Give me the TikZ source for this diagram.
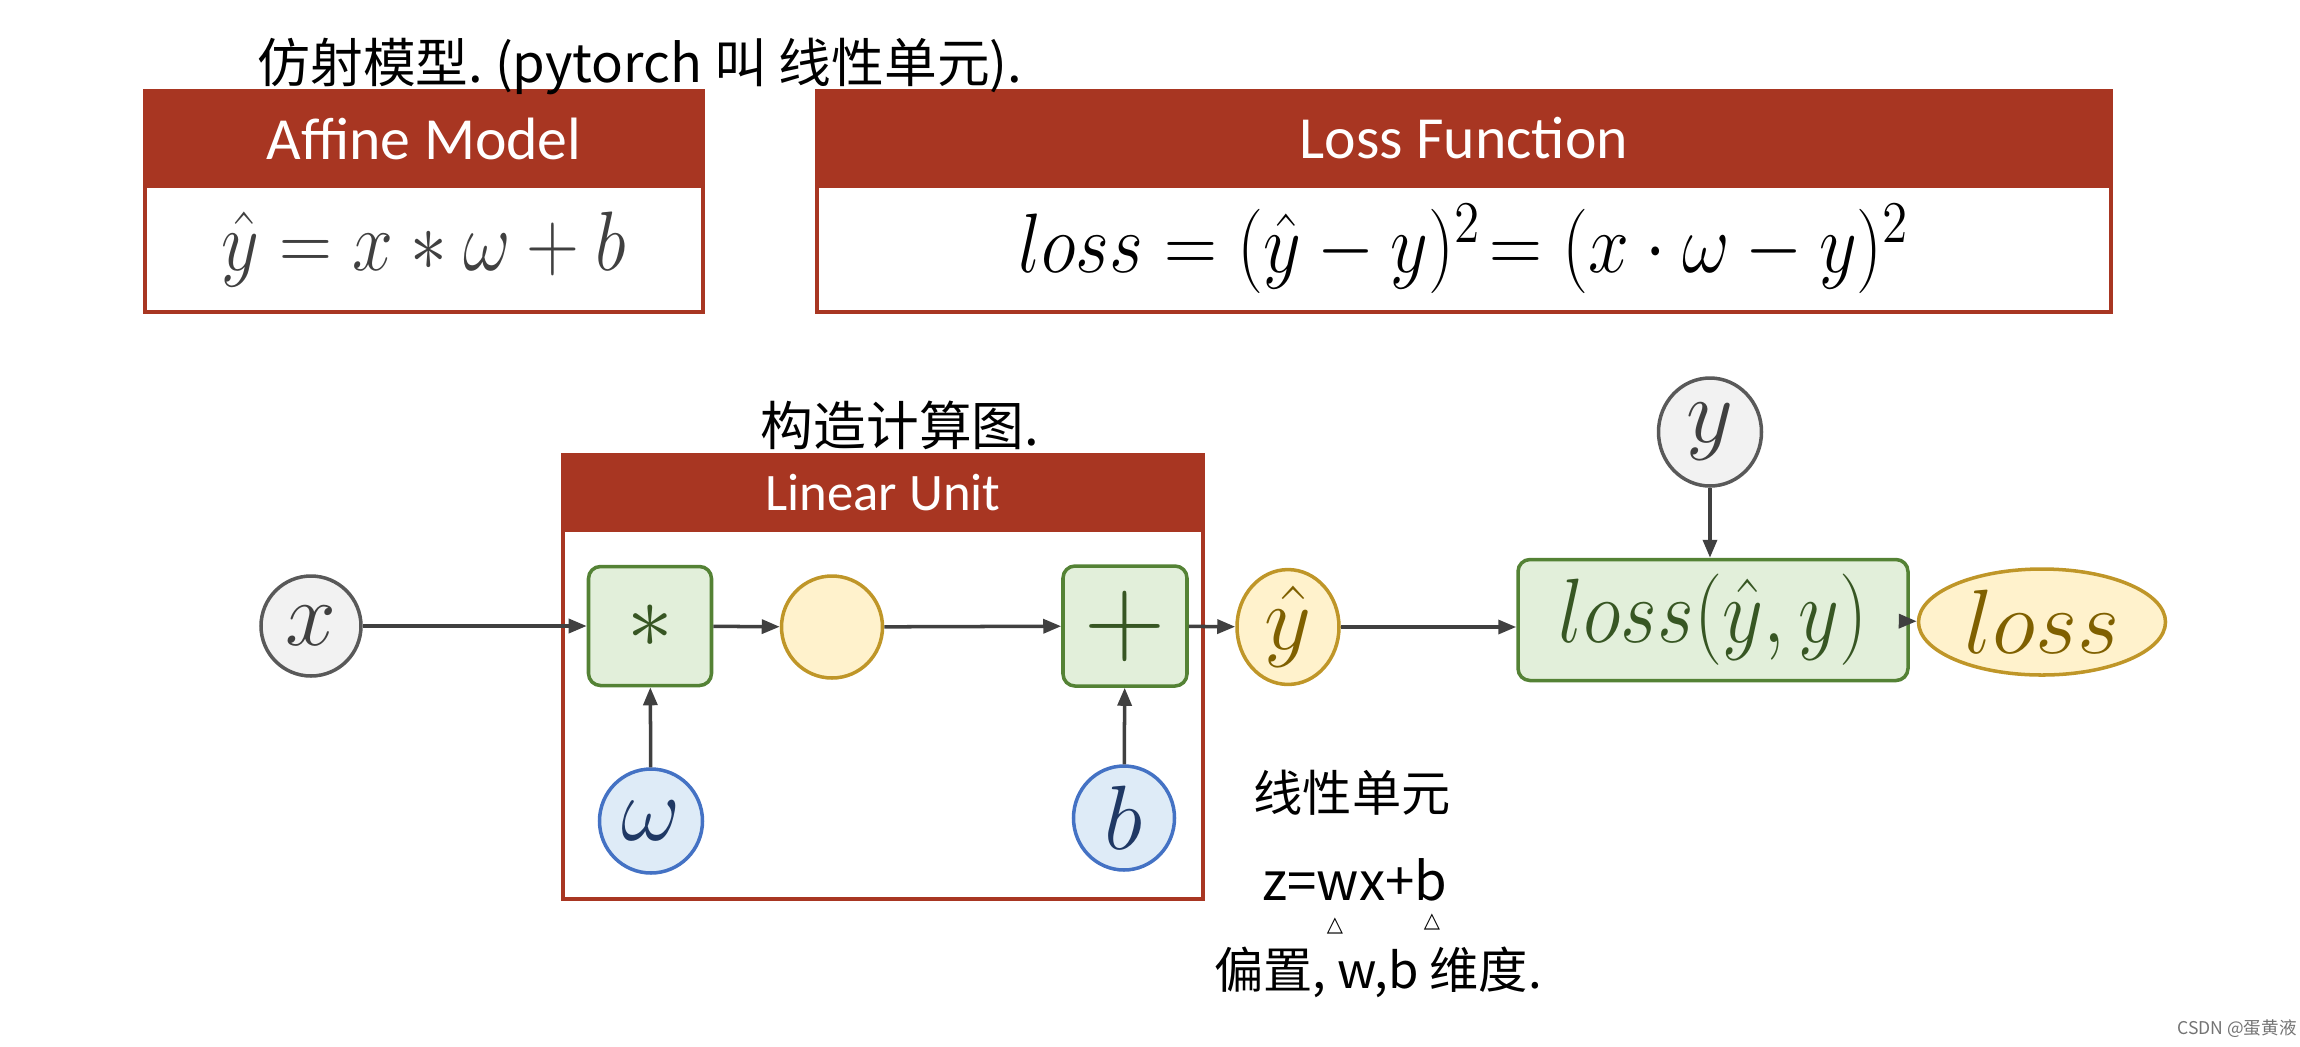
\RequirePackage{fix-cm}
\documentclass[tikz,border=0pt]{standalone}
\usepackage{fontspec}
\setmainfont{Carlito}
\newfontfamily\cjk{Noto Sans CJK SC}
\newfontfamily\dejavu{DejaVu Sans}
\usetikzlibrary{shapes.geometric, arrows.meta, positioning}
\definecolor{hdrred}{RGB}{168,54,34}
\definecolor{opgreen}{RGB}{84,130,53}
\definecolor{opfill}{RGB}{226,239,218}
\definecolor{optext}{RGB}{55,86,35}
\definecolor{varyellow}{RGB}{191,150,40}
\definecolor{varfill}{RGB}{255,242,204}
\definecolor{vartext}{RGB}{127,96,0}
\definecolor{parblue}{RGB}{68,114,196}
\definecolor{parfill}{RGB}{222,235,247}
\definecolor{partext}{RGB}{31,56,100}
\definecolor{ingray}{RGB}{89,89,89}
\definecolor{infill}{RGB}{242,242,242}
\definecolor{edgegray}{RGB}{64,64,64}
\newcommand{\narrow}[1]{\scalebox{0.87}[1]{#1}}

\begin{document}
\begin{tikzpicture}[x=0.1mm, y=-0.1mm,
  head/.style={fill=hdrred, draw=hdrred, line width=1pt, text=white, inner sep=0pt,
    font=\fontsize{17}{20}\selectfont},
  panel/.style={draw=hdrred, line width=1pt, inner sep=0pt},
  invar/.style={ellipse, draw=ingray, fill=infill, text=edgegray, line width=1pt,
    inner sep=0pt, font=\fontsize{26}{30}\selectfont},
  param/.style={ellipse, draw=parblue, fill=parfill, text=partext, line width=1pt,
    inner sep=0pt, font=\fontsize{26}{30}\selectfont},
  midvar/.style={ellipse, draw=varyellow, fill=varfill, text=vartext, line width=1pt,
    inner sep=0pt, font=\fontsize{26}{30}\selectfont},
  opbox/.style={rectangle, rounded corners=1.2mm, draw=opgreen, fill=opfill, text=optext,
    line width=1pt, inner sep=0pt, font=\fontsize{26}{30}\selectfont},
  flow/.style={draw=edgegray, line width=1pt, -{Triangle[length=1.8mm, width=1.4mm]}},
  note/.style={font=\cjk\fontsize{15}{18}\selectfont, inner sep=0pt}]
  \useasboundingbox (0,0) rectangle (2300,1046);

  % top panels
  \node[head, minimum width=5.58cm, minimum height=0.95cm] (affhead) at (424,138.5) {Affine Model};
  \node[panel, minimum width=5.58cm, minimum height=1.26cm, text=edgegray,
    font=\fontsize{24}{28}\selectfont] (affbody) at (424,249) {\narrow{$\hat{y} = x * \omega + b$}};
  \node[head, minimum width=12.94cm, minimum height=0.95cm] (losshead) at (1464,138.5) {Loss Function};
  \node[panel, minimum width=12.94cm, minimum height=1.26cm,
    font=\fontsize{24}{28}\selectfont] (lossbody) at (1464,249) {\narrow{$loss = (\hat{y}-y)^2\!= (x\cdot\omega - y)^2$}};

  % linear unit frame
  \node[head, minimum width=6.40cm, minimum height=0.75cm,
    font=\fontsize{15}{18}\selectfont] (luhead) at (883,492.5) {Linear Unit};
  \node[panel, minimum width=6.40cm, minimum height=3.69cm] (lubody) at (883,714.5) {};

  % graph
  \node[invar, minimum width=1.0cm, minimum height=1.0cm] (x) at (311,626) {$x$};
  \node[opbox, minimum width=1.23cm, minimum height=1.19cm] (mul) at (650,626) {$*$};
  \node[midvar, minimum width=1.01cm, minimum height=1.02cm] (mid) at (832,627) {};
  \node[opbox, minimum width=1.24cm, minimum height=1.20cm, font=\fontsize{32}{36}\selectfont] (add) at (1125,626) {$+$};
  \node[param, minimum width=1.03cm, minimum height=1.04cm] (w) at (651,821) {$\omega$};
  \node[param, minimum width=1.01cm, minimum height=1.04cm] (b) at (1124,818) {$b$};
  \node[midvar, minimum width=1.02cm, minimum height=1.03cm] (yhat) at (1288,627) {$\hat{y}$};
  \node[invar, minimum width=1.03cm, minimum height=1.08cm] (y) at (1710,432) {$y$};
  \node[opbox, minimum width=3.90cm, minimum height=1.21cm] (lossf) at (1713,620) {\narrow{$loss(\hat{y},y)$}};
  \node[midvar, minimum width=2.47cm, minimum height=1.06cm] (loss) at (2042,622) {$loss$};

  \draw[flow] (x) -- (mul);
  \draw[flow] (mul) -- (mid);
  \draw[flow] (mid) -- (add);
  \draw[flow] (add) -- (yhat);
  \draw[flow] (yhat) -- (yhat -| lossf.west);
  \draw[flow] (lossf) -- (loss);
  \draw[flow] (w) -- (mul);
  \draw[flow] (b) -- (add);
  \draw[flow] (y) -- (y |- lossf.north);

  % handwritten notes
  \node[note] (hw1) at (640,66) {仿射模型.\ (pytorch 叫 线性单元).};
  \node[note] (hw2) at (900,425) {构造计算图.};
  \node[note, font=\cjk\fontsize{14}{16}\selectfont] (hw3) at (1352,793) {线性单元};
  \node[note, font=\cjk\fontsize{15}{16}\selectfont] (hw4) at (1355,880) {z=wx+b};
  \node[inner sep=0pt, font=\dejavu\fontsize{6}{7}\selectfont] (tri1) at (1335,926) {△};
  \node[inner sep=0pt, font=\dejavu\fontsize{6}{7}\selectfont] (tri2) at (1432,922) {△};
  \node[note, font=\cjk\fontsize{14}{16}\selectfont] (hw5) at (1378,972) {偏置, w,b 维度.};

  \node[inner sep=0pt, text=black!55, font=\cjk\fontsize{5}{6}\selectfont] (mark) at (2237,1029) {CSDN @蛋黄液};
\end{tikzpicture}
\end{document}
